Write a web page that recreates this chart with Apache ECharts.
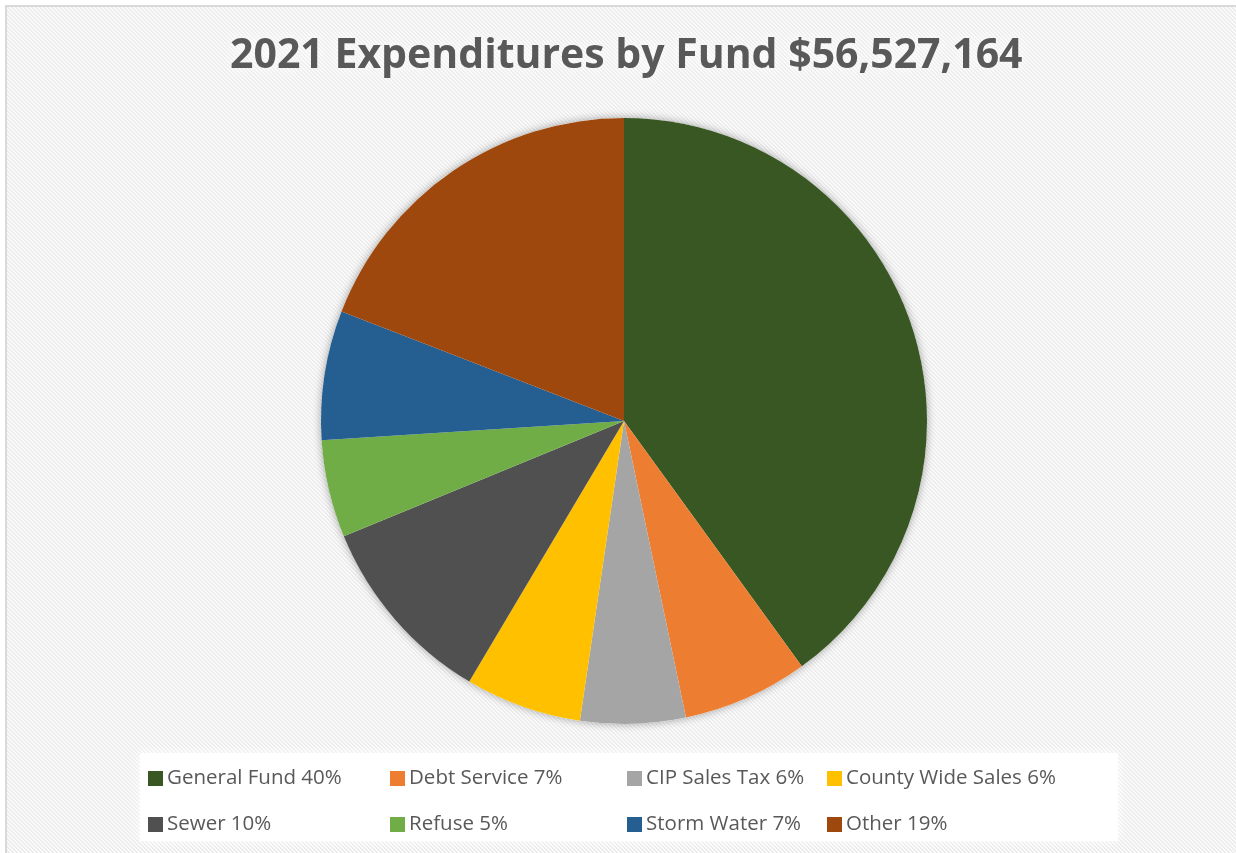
<!DOCTYPE html>
<html>
<head>
<meta charset="utf-8">
<title>2021 Expenditures by Fund</title>
<script src="https://cdn.jsdelivr.net/npm/echarts@6/dist/echarts.min.js"></script>
<style>
  html, body { margin: 0; padding: 0; background: #ffffff; }
  #chart { width: 1236px; height: 853px; }
</style>
</head>
<body>
<div id="chart"></div>
<script>
// Fund categories and their share of total expenditures (percent)
const funds = ['General Fund', 'Debt Service', 'CIP Sales Tax', 'County Wide Sales',
               'Sewer', 'Refuse', 'Storm Water', 'Other'];
const shares = [40.0, 6.7, 5.6, 6.2, 10.25, 5.2, 6.9, 19.1];
const fundColors = ['#385723', '#ED7D31', '#A5A5A5', '#FFC000',
                    '#505050', '#70AD47', '#255E91', '#9E480E'];
const titleText = '2021 Expenditures by Fund $56,527,164';

const total = shares.reduce((a, b) => a + b, 0);
const pctOf = {};
funds.forEach((f, i) => { pctOf[f] = Math.round(shares[i] / total * 100); });

// Faint diagonal hatch used as the chart-area fill
function hatchTile() {
  const c = document.createElement('canvas');
  c.width = 8; c.height = 8;
  const g = c.getContext('2d');
  g.fillStyle = '#fbfbfb';
  g.fillRect(0, 0, 8, 8);
  g.fillStyle = '#ececec';
  for (let y = 0; y < 8; y++) {
    for (let x = 0; x < 8; x++) {
      const d = ((x - y) % 4 + 4) % 4;
      if (d === 0 || d === 1) g.fillRect(x, y, 1, 1);
    }
  }
  return c;
}

const chart = echarts.init(document.getElementById('chart'), null, { renderer: 'canvas' });

const legendColumns = [
  { left: 143, names: [funds[0], funds[4]] },
  { left: 385, names: [funds[1], funds[5]] },
  { left: 622, names: [funds[2], funds[6]] },
  { left: 822, names: [funds[3], funds[7]] }
];

const option = {
  backgroundColor: '#ffffff',
  animation: false,
  color: fundColors,
  title: {
    text: titleText,
    left: 225,
    top: 31,
    textStyle: {
      fontFamily: 'Open Sans',
      fontWeight: 'bold',
      fontSize: 41,
      color: '#595959',
      textShadowColor: '#ffffff',
      textShadowBlur: 14
    }
  },
  graphic: [
    {
      type: 'rect',
      z: -10,
      silent: true,
      shape: { x: 6, y: 6, width: 1240, height: 860 },
      style: {
        fill: { image: hatchTile(), repeat: 'repeat' },
        stroke: '#d9d9d9',
        lineWidth: 2
      }
    },
    {
      type: 'rect',
      z: -5,
      silent: true,
      shape: { x: 140, y: 753, width: 978, height: 88 },
      style: { fill: '#ffffff', shadowColor: 'rgba(255,255,255,0.9)', shadowBlur: 10 }
    }
  ],
  legend: legendColumns.map(col => ({
    orient: 'vertical',
    left: col.left,
    top: 763,
    itemGap: 25,
    itemWidth: 15,
    itemHeight: 15,
    icon: 'rect',
    selectedMode: false,
    data: col.names,
    formatter: name => name + ' ' + pctOf[name] + '%',
    textStyle: { fontFamily: 'Open Sans', fontSize: 20.5, color: '#595959', padding: [0, 0, 0, -1] }
  })),
  series: [
    {
      // soft shadow ring beneath the pie
      type: 'pie',
      silent: true,
      z: 1,
      center: [624, 421],
      radius: 303,
      label: { show: false },
      labelLine: { show: false },
      itemStyle: { color: '#ffffff', shadowColor: 'rgba(0,0,0,0.35)', shadowBlur: 8 },
      data: [{ name: '_base', value: total }],
      legendHoverLink: false
    },
    {
      type: 'pie',
      z: 2,
      center: [624, 421],
      radius: 303,
      startAngle: 90,
      clockwise: true,
      label: { show: false },
      labelLine: { show: false },
      itemStyle: { borderWidth: 0 },
      data: funds.map((f, i) => ({ name: f, value: shares[i], itemStyle: { color: fundColors[i] } }))
    }
  ]
};

chart.setOption(option);
</script>
</body>
</html>
